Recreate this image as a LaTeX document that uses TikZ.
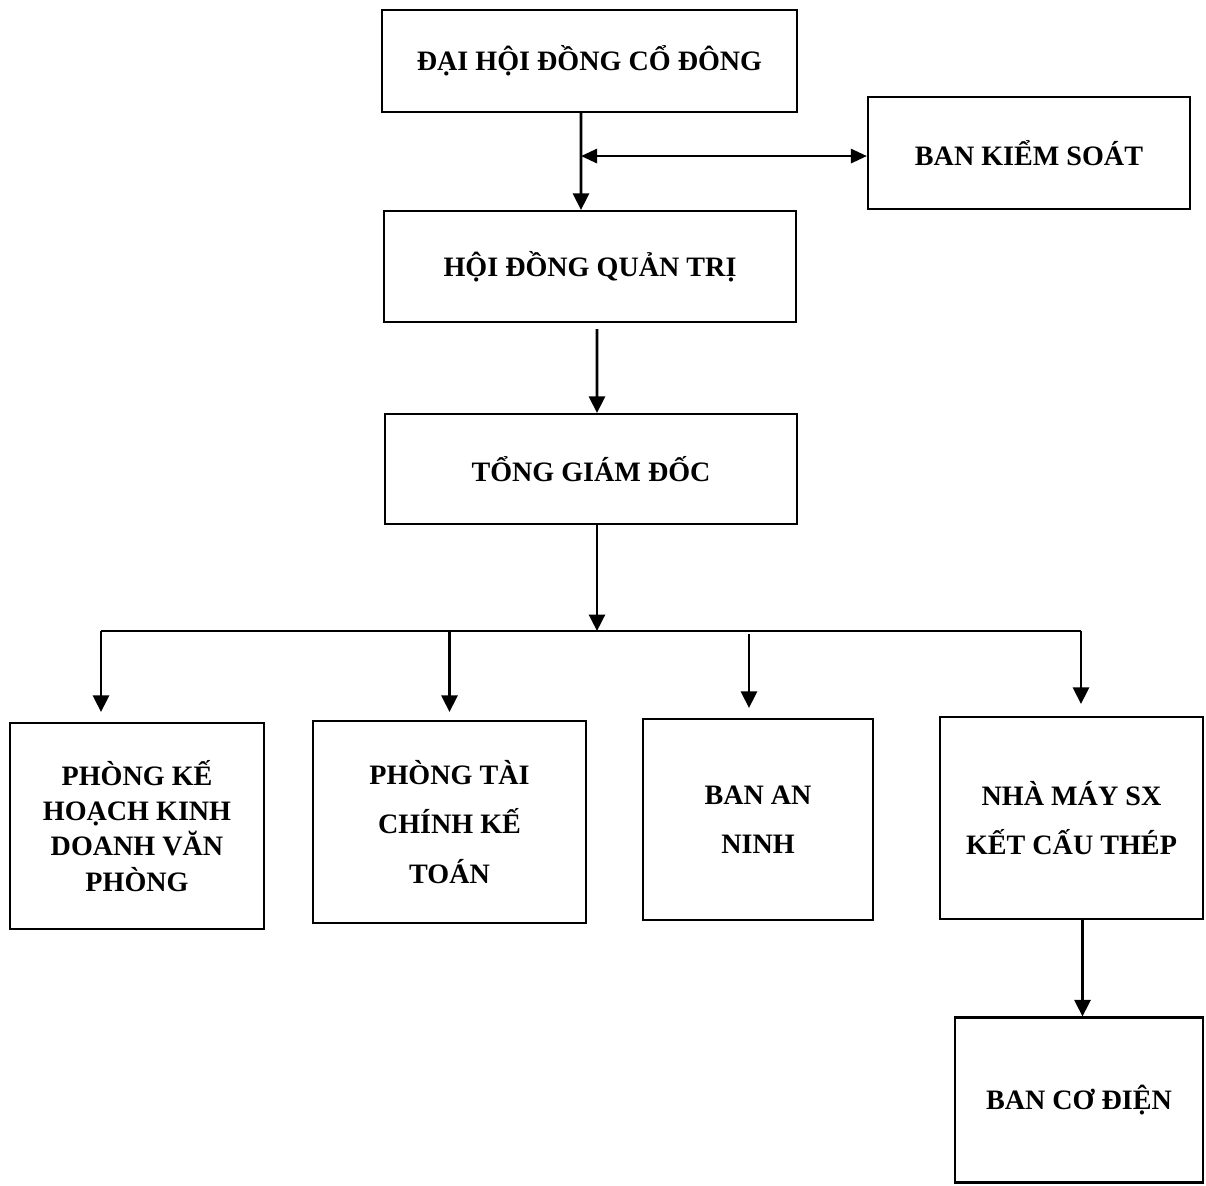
\documentclass[tikz,border=0pt]{standalone}
\usepackage{fontspec}
\setmainfont{Liberation Serif}
\usepackage{tikz}
\usetikzlibrary{arrows.meta,positioning,calc}

\begin{document}
\begin{tikzpicture}[
  box/.style={draw=black,line width=1.2pt,align=center,inner sep=2pt,
    font=\fontsize{16}{20}\selectfont\bfseries},
  wide/.style={box,minimum width=8.24cm,minimum height=2.2cm},
  unit/.style={box,minimum height=4.04cm,font=\fontsize{16}{28}\selectfont\bfseries},
  arr/.style={-{Triangle[length=3.3mm,width=3.2mm]},line width=1.6pt},
  darr/.style={{Triangle[length=3.2mm,width=2.8mm]}-{Triangle[length=3.2mm,width=2.8mm]},line width=1.6pt}]
  \useasboundingbox (0,0) rectangle (24.12,-23.72);
  \node[wide,minimum width=8.3cm,minimum height=2.04cm] (dhdcd) at (11.79,-1.22)
    {ĐẠI HỘI ĐỒNG CỔ ĐÔNG};
  \node[box,minimum width=6.44cm,minimum height=2.24cm] (bks) at (20.58,-3.06)
    {BAN KIỂM SOÁT};
  \node[wide,minimum height=2.22cm] (hdqt) at (11.80,-5.33)
    {HỘI ĐỒNG QUẢN TRỊ};
  \node[wide] (tgd) at (11.82,-9.38)
    {TỔNG GIÁM ĐỐC};
  \node[unit,minimum width=5.08cm,minimum height=4.12cm,
    font=\fontsize{16}{20}\selectfont\bfseries] (pkh) at (2.74,-16.52)
    {PHÒNG KẾ\\HOẠCH KINH\\DOANH VĂN\\PHÒNG};
  \node[unit,minimum width=5.46cm] (ptc) at (8.99,-16.44)
    {PHÒNG TÀI\\CHÍNH KẾ\\TOÁN};
  \node[unit,minimum width=4.6cm,minimum height=4.02cm] (ann) at (15.16,-16.39)
    {BAN AN\\NINH};
  \node[unit,minimum width=5.26cm] (nmsx) at (21.43,-16.36)
    {NHÀ MÁY SX\\KẾT CẤU THÉP};
  \node[box,minimum width=4.96cm,minimum height=3.3cm] (bcd) at (21.58,-22.0)
    {BAN CƠ ĐIỆN};
  % dai hoi -> hoi dong quan tri, ban kiem soat
  \coordinate (junc) at ($(dhdcd.south)+(-0.17,-0.86)$);
  \draw[arr] ($(dhdcd.south)+(-0.17,0)$) -- ($(hdqt.north)+(-0.18,0)$);
  \draw[darr] (junc) -- (junc -| bks.west);
  \draw[arr] ($(hdqt.south)+(0.14,-0.12)$) -- ($(tgd.north)+(0.12,0)$);
  % phan nhanh
  \coordinate (busL) at (2.02,-12.62);
  \coordinate (busR) at (21.62,-12.62);
  \coordinate (tx) at ($(tgd.south)+(0.12,0)$);
  \draw[arr] (tx) -- (tx |- busL);
  \draw[line width=1.6pt] (busL) -- (busR);
  \draw[arr] (busL) -- ($(busL |- pkh.north)+(0,0.2)$);
  \draw[arr] (ptc.north |- busL) -- ($(ptc.north)+(0,0.16)$);
  \draw[arr] ($(ann.north |- busL)+(-0.18,-0.06)$) -- ($(ann.north)+(-0.18,0.2)$);
  \draw[arr] (busR) -- ($(busR |- nmsx.north)+(0,0.24)$);
  \coordinate (nx) at ($(nmsx.south)+(0.22,0)$);
  \draw[arr] (nx) -- (nx |- bcd.north);
\end{tikzpicture}
\end{document}
